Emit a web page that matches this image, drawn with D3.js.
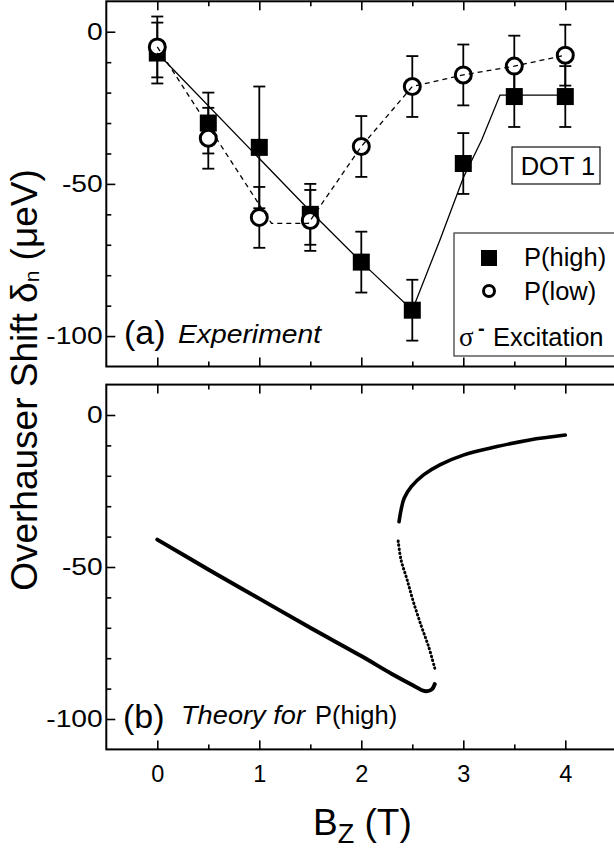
<!DOCTYPE html>
<html>
<head>
<meta charset="utf-8">
<script src="https://cdn.jsdelivr.net/npm/d3@7"></script>
<style>
  body { margin: 0; background: #fff; }
  svg { display: block; font-family: "Liberation Sans", Arial, sans-serif; }
</style>
</head>
<body>
<div id="chart"></div>
<script>
// field values (T) and measured shifts (ueV)
var fieldT = [0, 0.5, 1, 1.5, 2, 2.5, 3, 3.5, 4];
var highShift = [-7, -30, -38, -60, -75.7, -91.5, -43.3, -21.3, -21.3];
var highErr = [10, 10, 20, 10, 10, 10, 10, 10, 10];
var lowShift = [-5, -35, -61, -62, -37.7, -18, -14.2, -11.3, -7.7];
var lowErr = [10, 10, 10, 10, 10, 10, 10, 10, 10];

// guide lines drawn through the data
var highGuideB = [0, 1.5, 2, 2.5, 2.77, 3.0, 3.18, 3.36, 4];
var highGuideY = [-7, -59, -75.7, -91.5, -68.5, -48, -35.6, -20.8, -20.8];
var lowGuideB = [0, 0.5, 1.12, 1.48, 2, 2.5, 3, 3.5, 4];
var lowGuideY = [-5, -31, -63, -63, -37.7, -18, -14.2, -11.3, -7.7];

// theory curve, three branches
var theoryLowB = [0, 0.5, 1.0, 1.5, 2.0, 2.3, 2.5, 2.62, 2.69, 2.72];
var theoryLowY = [-41, -50.8, -60.4, -70, -79.3, -85.2, -88.8, -90.8, -90.3, -88.5];
var theoryMidB = [2.72, 2.66, 2.59, 2.51, 2.45, 2.39, 2.36];
var theoryMidY = [-83.3, -76.2, -69.6, -61.4, -54.3, -47.7, -41.1];
var theoryUpB = [2.37, 2.39, 2.42, 2.49, 2.61, 2.77, 3.0, 3.33, 3.65, 4.0];
var theoryUpY = [-35.1, -31.2, -27.4, -23.6, -19.7, -16.4, -13.2, -10.4, -8.2, -6.6];

// ticks
var xMajor = [0, 1, 2, 3, 4];
var xMinor = [0.5, 1.5, 2.5, 3.5];
var yMajor = [0, -50, -100];
var yMinor = [-10, -20, -30, -40, -60, -70, -80, -90];

var svgWidth = 614;
var svgHeight = 852;

var svg = d3.select("#chart")
  .append("svg")
  .attr("width", svgWidth)
  .attr("height", svgHeight);

var x = d3.scaleLinear().domain([-0.5, 4.5]).range([106.3, 616.3]);
var yTop = d3.scaleLinear().domain([-110, 10]).range([366.5, 1.3]);
var yBot = d3.scaleLinear().domain([-110, 10]).range([749.4, 384.6]);

function zip(a, b) {
  return a.map(function(v, i) { return [v, b[i]]; });
}

function drawFrame(y, labels) {
  var g = svg.append("g");
  g.append("rect")
    .attr("x", x(-0.5))
    .attr("y", y(10))
    .attr("width", x(4.5) - x(-0.5))
    .attr("height", y(-110) - y(10))
    .attr("fill", "none")
    .attr("stroke", "#000")
    .attr("stroke-width", 2);

  g.append("g")
    .attr("transform", `translate(0, ${y(-110)})`)
    .call(d3.axisBottom(x).tickValues(xMajor).tickSize(-9).tickPadding(15.5)
      .tickFormat(labels ? d3.format("d") : ""));
  g.append("g")
    .attr("transform", `translate(0, ${y(-110)})`)
    .call(d3.axisBottom(x).tickValues(xMinor).tickSize(-5).tickFormat(""));
  g.append("g")
    .attr("transform", `translate(0, ${y(10)})`)
    .call(d3.axisTop(x).tickValues(xMajor).tickSize(-9).tickFormat(""));
  g.append("g")
    .attr("transform", `translate(0, ${y(10)})`)
    .call(d3.axisTop(x).tickValues(xMinor).tickSize(-5).tickFormat(""));
  var left = g.append("g")
    .attr("transform", `translate(${x(-0.5)}, 0)`)
    .call(d3.axisLeft(y).tickValues(yMajor).tickSize(-9).tickPadding(3)
      .tickFormat(function(d) { return String(d); }));
  g.append("g")
    .attr("transform", `translate(${x(-0.5)}, 0)`)
    .call(d3.axisLeft(y).tickValues(yMinor).tickSize(-5).tickFormat(""));

  g.selectAll(".domain").remove();
  g.selectAll(".tick line").attr("stroke", "#000").attr("stroke-width", 1.6);
  g.selectAll(".tick text")
    .attr("fill", "#000")
    .attr("font-size", 23.5)
    .attr("font-family", "Liberation Sans, Arial, sans-serif");
  // the y labels are drawn a little wider in the original
  left.selectAll(".tick text").attr("transform", "scale(1.2,1)");
  return g;
}

drawFrame(yTop, false);
drawFrame(yBot, true);

// ---- panel (a): experiment ----
var panelA = svg.append("g");
var highData = fieldT.map(function(b, i) { return {b: b, v: highShift[i], e: highErr[i]}; });
var lowData = fieldT.map(function(b, i) { return {b: b, v: lowShift[i], e: lowErr[i]}; });

function errorBars(data) {
  var eb = panelA.append("g").attr("stroke", "#000").attr("stroke-width", 1.8);
  data.forEach(function(d) {
    eb.append("line")
      .attr("x1", x(d.b)).attr("x2", x(d.b))
      .attr("y1", yTop(d.v + d.e)).attr("y2", yTop(d.v - d.e));
    [d.v + d.e, d.v - d.e].forEach(function(v) {
      eb.append("line")
        .attr("x1", x(d.b) - 6).attr("x2", x(d.b) + 6)
        .attr("y1", yTop(v)).attr("y2", yTop(v));
    });
  });
}
errorBars(highData);
errorBars(lowData);

panelA.selectAll("rect.high")
  .data(highData)
  .enter()
  .append("rect")
  .attr("class", "high")
  .attr("x", d => x(d.b) - 8.5)
  .attr("y", d => yTop(d.v) - 8.5)
  .attr("width", 17)
  .attr("height", 17)
  .attr("fill", "#000");

panelA.selectAll("circle.low")
  .data(lowData)
  .enter()
  .append("circle")
  .attr("class", "low")
  .attr("cx", d => x(d.b))
  .attr("cy", d => yTop(d.v))
  .attr("r", 8)
  .attr("fill", "#fff")
  .attr("stroke", "#000")
  .attr("stroke-width", 3);

var lineTop = d3.line().x(d => x(d[0])).y(d => yTop(d[1]));
panelA.append("path")
  .attr("d", lineTop(zip(highGuideB, highGuideY)))
  .attr("fill", "none")
  .attr("stroke", "#000")
  .attr("stroke-width", 1.3);
panelA.append("path")
  .attr("d", lineTop(zip(lowGuideB, lowGuideY)))
  .attr("fill", "none")
  .attr("stroke", "#000")
  .attr("stroke-width", 1.3)
  .attr("stroke-dasharray", "5,4");

// DOT 1 box
panelA.append("rect")
  .attr("x", 512).attr("y", 147).attr("width", 88).attr("height", 37)
  .attr("fill", "#fff").attr("stroke", "#111").attr("stroke-width", 1.2);
panelA.append("text")
  .attr("x", 558).attr("y", 175)
  .attr("text-anchor", "middle")
  .attr("font-size", 25.5)
  .text("DOT 1");

// legend
panelA.append("rect")
  .attr("x", 454).attr("y", 233).attr("width", 180).attr("height", 123)
  .attr("fill", "#fff").attr("stroke", "#333").attr("stroke-width", 1.2);
panelA.append("rect")
  .attr("x", 481).attr("y", 250).attr("width", 16).attr("height", 16)
  .attr("fill", "#000");
panelA.append("text").attr("x", 524).attr("y", 266).attr("font-size", 25.5).text("P(high)");
panelA.append("circle")
  .attr("cx", 489).attr("cy", 291).attr("r", 5.5)
  .attr("fill", "#fff").attr("stroke", "#000").attr("stroke-width", 3);
panelA.append("text").attr("x", 524).attr("y", 300).attr("font-size", 25.5).text("P(low)");
var exc = panelA.append("text").attr("y", 346).attr("font-size", 25.5);
exc.append("tspan").attr("x", 459).attr("font-family", "Liberation Serif, Times New Roman, serif")
  .attr("font-size", 27).text("σ");
exc.append("tspan").attr("x", 478).attr("dy", -11).attr("font-size", 20).attr("font-weight", "bold").text("-");
exc.append("tspan").attr("x", 493).attr("dy", 11).text("Excitation");

// panel label (a)
panelA.append("text").attr("x", 124).attr("y", 344).attr("font-size", 34).text("(a)");
panelA.append("text").attr("x", 178).attr("y", 343).attr("font-size", 25)
  .attr("font-style", "italic")
  .attr("textLength", 143).attr("lengthAdjust", "spacingAndGlyphs")
  .text("Experiment");

// ---- panel (b): theory ----
var panelB = svg.append("g");
var lineBot = d3.line().x(d => x(d[0])).y(d => yBot(d[1])).curve(d3.curveCatmullRom);
panelB.append("path")
  .attr("d", lineBot(zip(theoryLowB, theoryLowY)))
  .attr("fill", "none").attr("stroke", "#000")
  .attr("stroke-width", 4).attr("stroke-linecap", "round");
panelB.append("path")
  .attr("d", lineBot(zip(theoryMidB, theoryMidY)))
  .attr("fill", "none").attr("stroke", "#000")
  .attr("stroke-width", 3).attr("stroke-linecap", "round")
  .attr("stroke-dasharray", "0.5,3.5");
panelB.append("path")
  .attr("d", lineBot(zip(theoryUpB, theoryUpY)))
  .attr("fill", "none").attr("stroke", "#000")
  .attr("stroke-width", 3.6).attr("stroke-linecap", "round");

panelB.append("text").attr("x", 123).attr("y", 728).attr("font-size", 34).text("(b)");
var th = panelB.append("text").attr("y", 724).attr("font-size", 25);
th.append("tspan").attr("x", 181).attr("font-style", "italic")
  .attr("textLength", 124).attr("lengthAdjust", "spacingAndGlyphs")
  .text("Theory for");
th.append("tspan").attr("x", 315).attr("font-size", 25.5).text("P(high)");

// axis titles
var yt = svg.append("text")
  .attr("transform", "translate(37, 380) rotate(-90)")
  .attr("text-anchor", "middle")
  .attr("font-size", 37);
yt.append("tspan").text("Overhauser Shift δ");
yt.append("tspan").attr("font-size", 21).attr("dy", 2).text("n");
yt.append("tspan").attr("dy", -2).text(" (μeV)");

var xt = svg.append("text").attr("x", 313).attr("y", 835).attr("font-size", 37);
xt.append("tspan").text("B");
xt.append("tspan").attr("font-size", 27).attr("dy", 8).text("Z");
xt.append("tspan").attr("dy", -8).text(" (T)");
</script>
</body>
</html>
